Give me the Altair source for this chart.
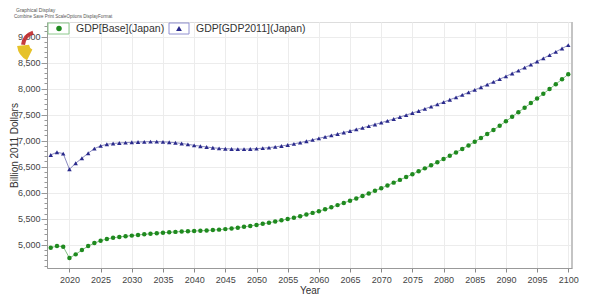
import altair as alt
import pandas as pd

years = list(range(2017, 2101))

gdp_base = [
    4942, 4974, 4962, 4745, 4815, 4898, 4974, 5032, 5077, 5110,
    5134, 5150, 5163, 5175, 5188, 5200, 5211, 5222, 5232, 5240,
    5247, 5253, 5258, 5263, 5268, 5274, 5281, 5290, 5300, 5313,
    5328, 5344, 5362, 5381, 5401, 5422, 5445, 5469, 5494, 5520,
    5549, 5580, 5612, 5645, 5680, 5720, 5761, 5803, 5846, 5890,
    5937, 5985, 6035, 6087, 6140, 6193, 6246, 6300, 6355, 6410,
    6467, 6525, 6585, 6647, 6710, 6774, 6840, 6908, 6978, 7050,
    7127, 7206, 7287, 7371, 7460, 7546, 7633, 7721, 7810, 7900,
    7992, 8085, 8179, 8275, 8371,
]
gdp_2011 = [
    6725, 6777, 6750, 6450, 6566, 6662, 6758, 6847, 6898, 6930,
    6945, 6955, 6962, 6968, 6973, 6977, 6980, 6980, 6977, 6970,
    6960, 6945, 6928, 6910, 6893, 6877, 6863, 6852, 6845, 6840,
    6837, 6837, 6840, 6846, 6855, 6866, 6880, 6897, 6916, 6938,
    6962, 6988, 7015, 7044, 7072, 7100, 7128, 7156, 7185, 7215,
    7246, 7278, 7311, 7345, 7380, 7416, 7453, 7491, 7530, 7570,
    7611, 7653, 7696, 7740, 7785, 7831, 7878, 7926, 7975, 8025,
    8076, 8128, 8181, 8235, 8290, 8346, 8403, 8461, 8520, 8581,
    8643, 8706, 8770, 8835,
]
gdp_base = gdp_base[:84]
gdp_2011 = gdp_2011[:84]

series_names = ["GDP[Base](Japan)", "GDP[GDP2011](Japan)"]
series_colors = ["#1f8a1f", "#2a2a8c"]
series_shapes = ["circle", "triangle-up"]

x_ticks = list(range(2020, 2101, 5))
y_ticks = list(range(4600, 9201, 100))

rows = []
for y, v in zip(years, gdp_base):
    rows.append({"Year": y, "Value": v, "Series": series_names[0]})
for y, v in zip(years, gdp_2011):
    rows.append({"Year": y, "Value": v, "Series": series_names[1]})
df = pd.DataFrame(rows)

W, H = 525, 246
FONT = "Liberation Sans"

xs = alt.Scale(domain=[2016.4, 2100.6], nice=False, zero=False)
ys = alt.Scale(domain=[4553, 9279], nice=False, zero=False)
cs = alt.Scale(domain=series_names, range=series_colors)
ss = alt.Scale(domain=series_names, range=series_shapes)

x_axis = alt.Axis(values=x_ticks, format="d", grid=True, gridColor="#ececec",
                  tickSize=4, tickColor="#888", domainColor="#999",
                  labelFontSize=9, labelColor="#444", labelFont=FONT,
                  labelPadding=3, labelOverlap=False,
                  titleFont=FONT, titleFontSize=10,
                  titleFontWeight="normal", titleColor="#333",
                  titlePadding=1, labelFlush=False)
y_axis = alt.Axis(values=y_ticks,
                  labelExpr="datum.value % 500 === 0 ? format(datum.value, ',') : ''",
                  labelOverlap=False,
                  grid=True,
                  gridColor={"condition": {"test": "datum.value % 500 === 0", "value": "#ececec"}, "value": "transparent"},
                  tickSize={"condition": {"test": "datum.value % 500 === 0", "value": 6}, "value": 3},
                  tickColor="#999", domainColor="#999",
                  labelFontSize=9, labelColor="#444", labelFont=FONT,
                  labelPadding=1, titleFont=FONT, titleFontSize=10,
                  titleFontWeight="normal", titleColor="#333",
                  titleX=-33, titleY=H / 2, titleBaseline="middle",
                  titleAlign="center")

x_enc = alt.X("Year:Q", scale=xs, title="Year", axis=x_axis)
y_enc = alt.Y("Value:Q", scale=ys, title="Billion 2011 Dollars", axis=y_axis)

base = alt.Chart(df)
lines = base.mark_line(strokeWidth=1, opacity=0.55).encode(
    x=x_enc, y=y_enc,
    color=alt.Color("Series:N", scale=cs, legend=None),
    detail="Series:N",
)
points = base.mark_point(filled=True, opacity=1).encode(
    x=x_enc, y=y_enc,
    color=alt.Color("Series:N", scale=cs, legend=None),
    shape=alt.Shape("Series:N", scale=ss, legend=None),
    size=alt.value(20),
)

one = pd.DataFrame({"k": [0]})
deco = alt.Chart(one)

right_border = deco.mark_rule(color="#c4c4c4", strokeWidth=2).encode(
    x=alt.value(W), y=alt.value(0), y2=alt.value(H))

leg_box1 = deco.mark_rect(fill="white", stroke="#8cc88c", strokeWidth=1).encode(
    x=alt.value(1), x2=alt.value(22), y=alt.value(1), y2=alt.value(12))
leg_box2 = deco.mark_rect(fill="white", stroke="#9090d0", strokeWidth=1).encode(
    x=alt.value(122), x2=alt.value(142), y=alt.value(1), y2=alt.value(12))
leg_sym1 = deco.mark_point(filled=True, shape="circle", size=30, color=series_colors[0], opacity=1).encode(
    x=alt.value(12), y=alt.value(6.5))
leg_sym2 = deco.mark_point(filled=True, shape="triangle-up", size=34, color=series_colors[1], opacity=1).encode(
    x=alt.value(132), y=alt.value(6.5))
leg_txt1 = deco.mark_text(text=series_names[0], align="left", baseline="middle",
                          font=FONT, fontSize=10.5, color="#333").encode(
    x=alt.value(29), y=alt.value(7))
leg_txt2 = deco.mark_text(text=series_names[1], align="left", baseline="middle",
                          font=FONT, fontSize=10.5, color="#333").encode(
    x=alt.value(149), y=alt.value(7))

title_txt = deco.mark_text(text="Graphical Display", align="left", baseline="top",
                           font=FONT, fontSize=5, color="#555").encode(
    x=alt.value(-31), y=alt.value(-14))
menu_txt = deco.mark_text(text="Combine    Save    Print    ScaleOptions    DisplayFormat", align="left",
                          baseline="middle", font=FONT, fontSize=4.5, color="#555").encode(
    x=alt.value(-33), y=alt.value(-5))

logo_y = deco.mark_arc(color="#e6c229", theta=3.6, theta2=4.6, radius=18, radius2=6).encode(
    x=alt.value(-12), y=alt.value(22))
logo_r = deco.mark_arc(color="#c0282a", theta=4.8, theta2=6.0, radius=16, radius2=12, opacity=0.9).encode(
    x=alt.value(-10), y=alt.value(24))

chart = alt.layer(
    lines, points, right_border,
    leg_box1, leg_box2, leg_sym1, leg_sym2, leg_txt1, leg_txt2,
    title_txt, menu_txt, logo_y, logo_r,
).properties(
    width=W, height=H,
    autosize=alt.AutoSizeParams(type="none"),
    padding={"left": 39, "top": 14, "right": 20, "bottom": 26},
).configure_view(stroke=None).configure(background="white")

chart.save("out.html", embed_options={"renderer": "svg", "actions": False})
